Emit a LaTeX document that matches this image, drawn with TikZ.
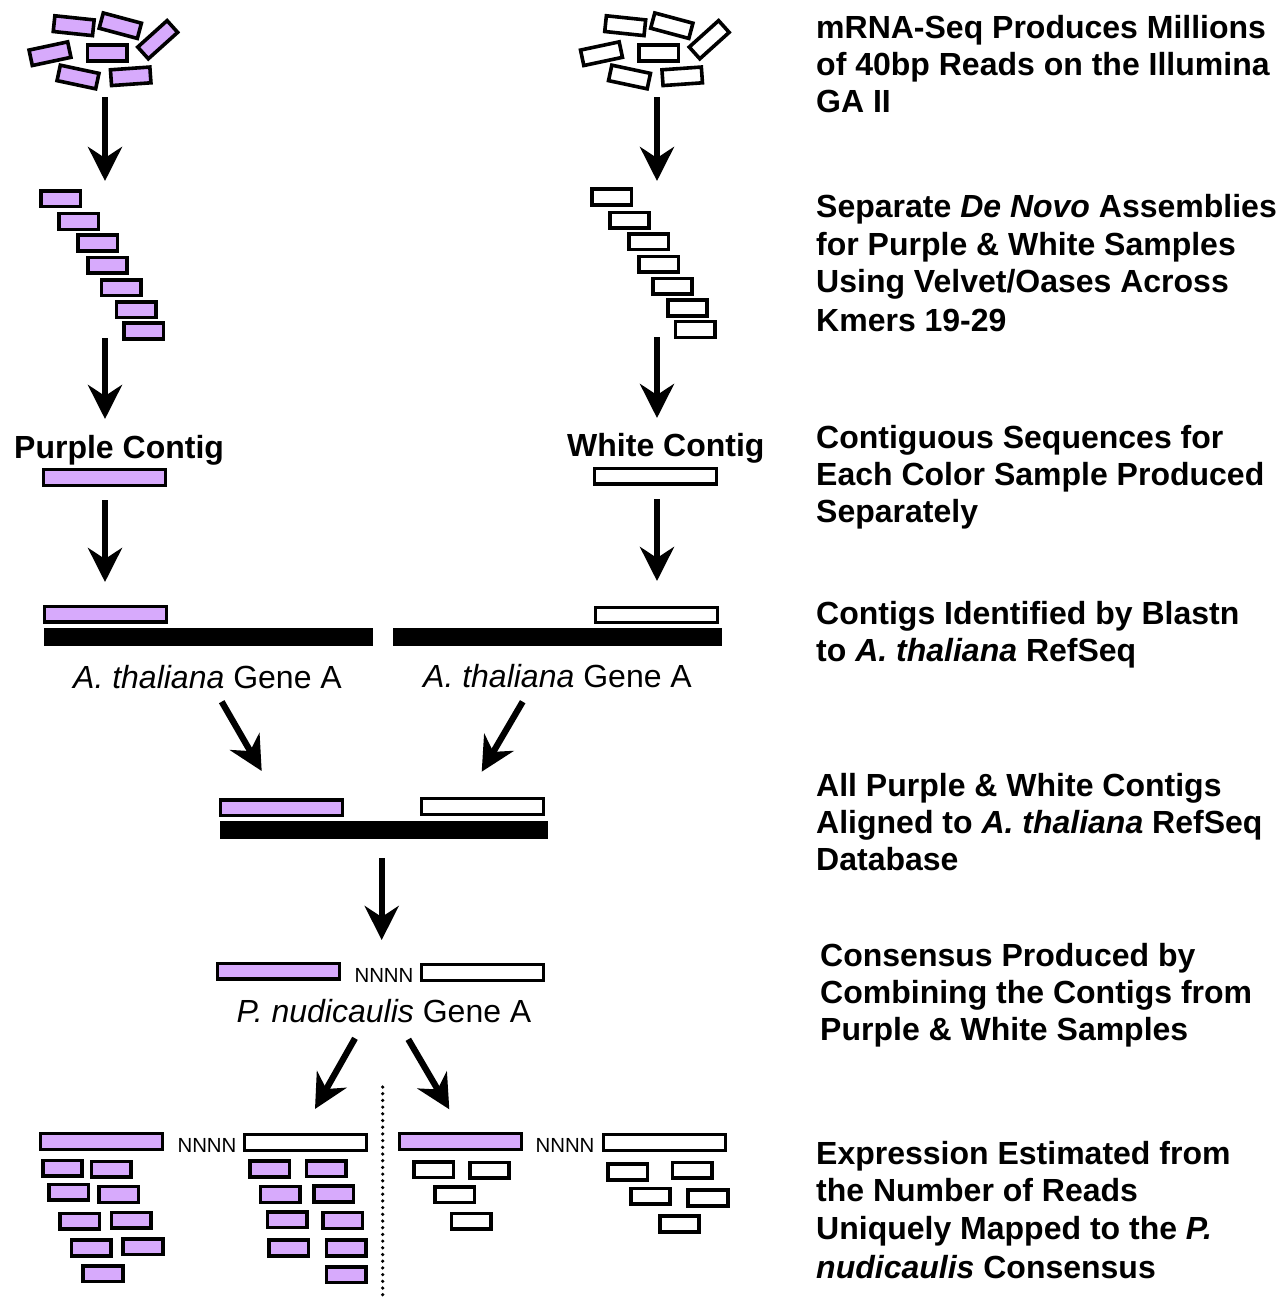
\documentclass[tikz,border=0pt]{standalone}
\usepackage{fontspec}
\setmainfont{Liberation Sans}
\usetikzlibrary{arrows.meta}
\definecolor{pur}{RGB}{215,170,252}
\begin{document}
\begin{tikzpicture}[x=1pt,y=-1pt,
  rd/.style={draw=black,line width=3.6pt,minimum width=39.5pt,minimum height=15.8pt,inner sep=0pt,outer sep=0pt},
  pr/.style={rd,fill=pur},
  wr/.style={rd,fill=white},
  lg/.style={draw=black,line width=3.2pt,minimum width=122pt,minimum height=15.5pt,inner sep=0pt,outer sep=0pt},
  plg/.style={lg,fill=pur},
  wlg/.style={lg,fill=white},
  bar/.style={fill=black,inner sep=0pt,outer sep=0pt,minimum width=328.4pt,minimum height=18.4pt},
  arr/.style={line width=6.3pt,-{Stealth[length=34pt,width=34pt,inset=11pt]}},
  rt/.style={anchor=base west,inner sep=0pt,font=\fontsize{32}{37}\selectfont\bfseries},
  lt/.style={anchor=base west,inner sep=0pt,font=\fontsize{32}{37}\selectfont},
  nn/.style={anchor=base,inner sep=0pt,font=\fontsize{20.4}{22}\selectfont},
]
\useasboundingbox (0,0) rectangle (1281,1301);
\fill[white] (0,0) rectangle (1281,1301);

% ---- top read clusters
\node[pr,rotate=-6]  (pa1) at (73.7,25.7) {};
\node[pr,rotate=-15] (pa2) at (120.3,25.7) {};
\node[pr,rotate=42]  (pa3) at (157.7,39.7) {};
\node[pr,rotate=12]  (pa4) at (50,53.7) {};
\node[pr]            (pa5) at (107.4,53) {};
\node[pr,rotate=-12] (pa6) at (78,77) {};
\node[pr,rotate=4]   (pa7) at (130.7,76.3) {};

\node[wr,rotate=-6]  (wa1) at (625.2,25.7) {};
\node[wr,rotate=-15] (wa2) at (671.8,25.7) {};
\node[wr,rotate=42]  (wa3) at (709.2,39.7) {};
\node[wr,rotate=12]  (wa4) at (601.5,53.7) {};
\node[wr]            (wa5) at (658.9,53) {};
\node[wr,rotate=-12] (wa6) at (629.5,77) {};
\node[wr,rotate=4]   (wa7) at (682.2,76.3) {};

% ---- staircases
\node[pr] (ps1) at (60.7,198.7) {};
\node[pr] (ps2) at (78.7,221.5) {};
\node[pr] (ps3) at (97.8,243) {};
\node[pr] (ps4) at (107.5,265.3) {};
\node[pr] (ps5) at (121.3,287.7) {};
\node[pr] (ps6) at (136.2,309.7) {};
\node[pr] (ps7) at (143.8,330.8) {};

\node[wr] (ws1) at (611.7,197) {};
\node[wr] (ws2) at (629.5,220.3) {};
\node[wr] (ws3) at (648.8,241.7) {};
\node[wr] (ws4) at (658.7,264.2) {};
\node[wr] (ws5) at (672.5,286.2) {};
\node[wr] (ws6) at (687.5,307.8) {};
\node[wr] (ws7) at (695.3,329.5) {};

% ---- contigs
\node[rt] (pct) at (14,458) {Purple Contig};
\node[rt] (wct) at (567,456) {White Contig};
\node[plg] (pc) at (104.2,477.5) {};
\node[wlg] (wc) at (655.3,476.2) {};

% ---- blast
\node[plg] (pb) at (105.8,614.2) {};
\node[wlg] (wb) at (656.7,615) {};
\node[bar] (barl) at (208.5,636.8) {};
\node[bar] (barr) at (557.5,637.2) {};
\node[lt] (atl) at (73,688) {\textit{A. thaliana} Gene A};
\node[lt] (atr) at (423,687) {\textit{A. thaliana} Gene A};

% ---- alignment
\node[plg] (pa) at (281.5,807.8) {};
\node[wlg] (wa) at (482.5,806.5) {};
\node[bar] (barc) at (384.2,830) {};

% ---- consensus
\node[plg] (pn) at (278.3,971.3) {};
\node[wlg] (wn) at (482.5,972.5) {};
\node[nn] (nnc) at (384,982) {NNNN};
\node[lt,anchor=base] (pnt) at (384,1022) {\textit{P. nudicaulis} Gene A};

% ---- bottom left
\node[plg] (bl1) at (101.8,1141.5) {};
\node[wlg] (bl2) at (305.8,1142.5) {};
\node[nn] (nnl) at (207,1152) {NNNN};
\node[pr] (q1) at (62.5,1168.2) {};
\node[pr] (q2) at (111.3,1169.2) {};
\node[pr] (q3) at (68.8,1192.2) {};
\node[pr] (q4) at (118.8,1194.5) {};
\node[pr] (q5) at (79.7,1221.3) {};
\node[pr] (q6) at (131.3,1220.3) {};
\node[pr] (q7) at (91.2,1248) {};
\node[pr] (q8) at (143,1246.7) {};
\node[pr] (q9) at (103,1273.7) {};
\node[pr] (r1) at (269.7,1168.8) {};
\node[pr] (r2) at (326.2,1168.7) {};
\node[pr] (r3) at (280.2,1194.5) {};
\node[pr] (r4) at (333.8,1193.8) {};
\node[pr] (r5) at (287.2,1219.7) {};
\node[pr] (r6) at (342.8,1220.5) {};
\node[pr] (r7) at (288.8,1248) {};
\node[pr] (r8) at (346.2,1248) {};
\node[pr] (r9) at (346.2,1274.7) {};

% ---- bottom right
\node[plg] (br1) at (460.8,1141.5) {};
\node[wlg] (br2) at (664.5,1142.5) {};
\node[nn] (nnr) at (565,1152) {NNNN};
\node[wr] (s1) at (433.7,1169.7) {};
\node[wr] (s2) at (489.5,1170.3) {};
\node[wr] (s3) at (454.7,1194.7) {};
\node[wr] (s4) at (471.3,1221.3) {};
\node[wr] (t1) at (627.8,1172) {};
\node[wr] (t2) at (692.2,1170.3) {};
\node[wr] (t3) at (650.5,1196.3) {};
\node[wr] (t4) at (708,1197.8) {};
\node[wr] (t5) at (679.5,1223.8) {};

% ---- arrow end points
\coordinate (a1s) at (105,97);   \coordinate (a1e) at (105,181);
\coordinate (a2s) at (105,338);  \coordinate (a2e) at (105,419);
\coordinate (a3s) at (105,500);  \coordinate (a3e) at (105,582);
\coordinate (b1s) at (657,97);   \coordinate (b1e) at (657,181);
\coordinate (b2s) at (657,337);  \coordinate (b2e) at (657,418);
\coordinate (b3s) at (657,499);  \coordinate (b3e) at (657,581);
\coordinate (d1s) at (221.7,701.7); \coordinate (d1e) at (261.7,771);
\coordinate (d2s) at (522.7,701.7); \coordinate (d2e) at (481.7,771.7);
\coordinate (c1s) at (381.7,858.3); \coordinate (c1e) at (381.7,940);
\coordinate (e1s) at (355,1038.3);  \coordinate (e1e) at (315,1109);
\coordinate (e2s) at (408.3,1039.3); \coordinate (e2e) at (449.3,1109.3);
\coordinate (dots) at (382.7,1087); \coordinate (dote) at (382.7,1301);

\draw[arr] (a1s) -- (a1e);
\draw[arr] (a2s) -- (a2e);
\draw[arr] (a3s) -- (a3e);
\draw[arr] (b1s) -- (b1e);
\draw[arr] (b2s) -- (b2e);
\draw[arr] (b3s) -- (b3e);
\draw[arr] (d1s) -- (d1e);
\draw[arr] (d2s) -- (d2e);
\draw[arr] (c1s) -- (c1e);
\draw[arr] (e1s) -- (e1e);
\draw[arr] (e2s) -- (e2e);
\draw[line width=3.6pt,line cap=round,dash pattern=on 0pt off 6.7pt] (dots) -- (dote);

% ---- right-hand descriptions
\node[rt] (t1a) at (816,38) {mRNA-Seq Produces Millions};
\node[rt] (t1b) at (816,75) {of 40bp Reads on the Illumina};
\node[rt] (t1c) at (816,112) {GA II};
\node[rt] (t2a) at (816,217) {Separate \textit{De Novo} Assemblies};
\node[rt] (t2b) at (816,255) {for Purple \& White Samples};
\node[rt] (t2c) at (816,292) {Using Velvet/Oases Across};
\node[rt] (t2d) at (816,331) {Kmers 19-29};
\node[rt] (t3a) at (816,448) {Contiguous Sequences for};
\node[rt] (t3b) at (816,485) {Each Color Sample Produced};
\node[rt] (t3c) at (816,522) {Separately};
\node[rt] (t4a) at (816,624) {Contigs Identified by Blastn};
\node[rt] (t4b) at (816,661) {to \textit{A. thaliana} RefSeq};
\node[rt] (t5a) at (816,796) {All Purple \& White Contigs};
\node[rt] (t5b) at (816,833) {Aligned to \textit{A. thaliana} RefSeq};
\node[rt] (t5c) at (816,870) {Database};
\node[rt] (t6a) at (820,966) {Consensus Produced by};
\node[rt] (t6b) at (820,1003) {Combining the Contigs from};
\node[rt] (t6c) at (820,1040) {Purple \& White Samples};
\node[rt] (t7a) at (816,1164) {Expression Estimated from};
\node[rt] (t7b) at (816,1201) {the Number of Reads};
\node[rt] (t7c) at (816,1239) {Uniquely Mapped to the \textit{P.}};
\node[rt] (t7d) at (816,1278) {\textit{nudicaulis} Consensus};
\end{tikzpicture}
\end{document}
